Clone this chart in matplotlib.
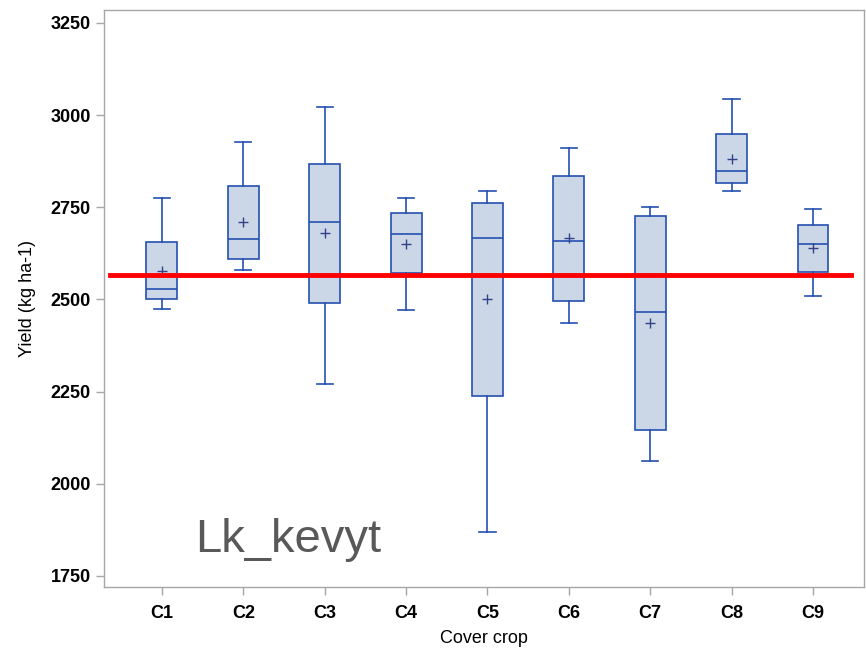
import matplotlib.pyplot as plt
import numpy as np

plt.rcParams['font.family'] = ['Liberation Sans', 'DejaVu Sans']

crops = ['C1', 'C2', 'C3', 'C4', 'C5', 'C6', 'C7', 'C8', 'C9']
whisker_low = [2474, 2579, 2271, 2471, 1868, 2435, 2062, 2794, 2509]
q1 = [2500, 2609, 2489, 2571, 2239, 2497, 2145, 2815, 2574]
median = [2529, 2664, 2709, 2677, 2667, 2658, 2466, 2847, 2650]
q3 = [2655, 2808, 2867, 2735, 2761, 2834, 2726, 2949, 2702]
whisker_high = [2776, 2928, 3023, 2774, 2794, 2911, 2752, 3043, 2746]
means = [2576, 2709, 2680, 2650, 2500, 2667, 2435, 2881, 2639]
reference_yield = 2565

edge = '#2450b0'
face = '#cbd6e6'

stats = []
for i, name in enumerate(crops):
    stats.append({'label': name, 'whislo': whisker_low[i], 'q1': q1[i], 'med': median[i],
                  'q3': q3[i], 'whishi': whisker_high[i], 'mean': means[i], 'fliers': []})

fig = plt.figure(figsize=(8.66, 6.54), dpi=100)
ax = fig.add_axes([0.120, 0.1024, 0.878, 0.8823])

pos = np.arange(len(crops))
ax.bxp(stats, positions=pos, widths=0.38, capwidths=0.2, showmeans=True,
       patch_artist=True,
       boxprops=dict(facecolor=face, edgecolor=edge, linewidth=1.2),
       whiskerprops=dict(color=edge, linewidth=1.2),
       capprops=dict(color=edge, linewidth=1.2),
       medianprops=dict(color=edge, linewidth=1.2),
       meanprops=dict(marker='+', markeredgecolor='#34408a', markersize=7, markeredgewidth=1))

ax.axhline(reference_yield, xmin=0.008, xmax=0.983, color='#ff0000', linewidth=3.5, zorder=5)

ax.set_xlim(-0.713, 8.63)
ax.set_ylim(1720, 3285)
ax.set_yticks([1750, 2000, 2250, 2500, 2750, 3000, 3250])
ax.set_xticks(pos)
ax.set_xticklabels(crops)

for s in ax.spines.values():
    s.set_color('#a6a6a6')
    s.set_linewidth(1)
ax.tick_params(colors='#a6a6a6', labelcolor='black', length=6, width=1, labelsize=13)
ax.tick_params(axis='x', pad=7)
for lab in ax.get_xticklabels() + ax.get_yticklabels():
    lab.set_fontweight('semibold')

ax.set_xlabel('Cover crop', fontsize=13, labelpad=6)
ax.set_ylabel('Yield (kg ha-1)', fontsize=13, labelpad=10)

ax.text(0.12, 0.061, 'Lk_kevyt', transform=ax.transAxes, fontsize=34,
        color='#595959', ha='left', va='baseline')

fig.savefig('out.png', dpi=100)
